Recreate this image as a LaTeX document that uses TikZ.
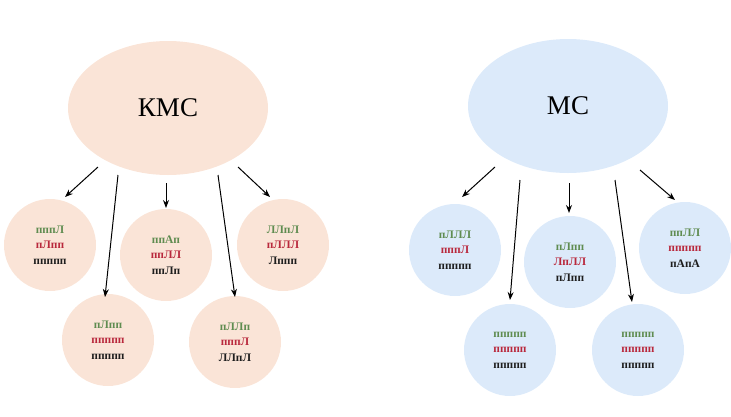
\documentclass[tikz,border=0pt]{standalone}
\usepackage{fontspec}
\setmainfont{Liberation Serif}
\usetikzlibrary{arrows.meta,shapes.geometric}
\definecolor{peach}{RGB}{250,228,215}
\definecolor{sky}{RGB}{220,234,250}
\definecolor{tgreen}{RGB}{95,140,80}
\definecolor{tred}{RGB}{185,40,60}
\definecolor{tblack}{RGB}{30,30,30}
\begin{document}
\begin{tikzpicture}[x=1pt,y=-1pt,
  bigell/.style={ellipse,minimum width=200pt,minimum height=134pt,inner sep=0pt,font=\fontsize{27}{29}\selectfont},
  smallc/.style={circle,minimum size=92pt,inner sep=0pt,align=center,font=\fontsize{11.5}{15.5}\selectfont\bfseries},
  arr/.style={-{Stealth[length=8pt,width=6pt]},line width=1pt,black}]
\useasboundingbox (0,0) rectangle (731,416);
\node[bigell,fill=peach] (kms) at (168,108) {КМС};
\node[bigell,fill=sky] (ms) at (568,106) {МС};
\newcommand{\tri}[3]{\textcolor{tgreen}{#1}\\\textcolor{tred}{#2}\\\textcolor{tblack}{#3}}
\node[smallc,fill=peach] (a1) at (50,245) {\tri{пппЛ}{пЛпп}{ппппп}};
\node[smallc,fill=peach] (a2) at (166,255) {\tri{ппАп}{ппЛЛ}{ппЛп}};
\node[smallc,fill=peach] (a3) at (283,245) {\tri{ЛЛпЛ}{пЛЛЛ}{Лппп}};
\node[smallc,fill=peach] (a4) at (108,340) {\tri{пЛпп}{ппппп}{ппппп}};
\node[smallc,fill=peach] (a5) at (235,342) {\tri{пЛЛп}{пппЛ}{ЛЛпЛ}};
\node[smallc,fill=sky] (b1) at (455,250) {\tri{пЛЛЛ}{пппЛ}{ппппп}};
\node[smallc,fill=sky] (b2) at (570,262) {\tri{пЛпп}{ЛпЛЛ}{пЛпп}};
\node[smallc,fill=sky] (b3) at (685,248) {\tri{ппЛЛ}{ппппп}{пАпА}};
\node[smallc,fill=sky] (b4) at (510,350) {\tri{ппппп}{ппппп}{ппппп}};
\node[smallc,fill=sky] (b5) at (638,350) {\tri{ппппп}{ппппп}{ппппп}};
\coordinate (ka1) at (98,167);
\coordinate (ka2) at (118,175);
\coordinate (ka3) at (166,183);
\coordinate (ka4) at (218,175);
\coordinate (ka5) at (238,167);
\coordinate (ta1) at (65,197);
\coordinate (ta2) at (105,297);
\coordinate (ta3) at (166,208);
\coordinate (ta4) at (235,297);
\coordinate (ta5) at (270,197);
\draw[arr] (ka1) -- (ta1);
\draw[arr] (ka2) -- (ta2);
\draw[arr] (ka3) -- (ta3);
\draw[arr] (ka4) -- (ta4);
\draw[arr] (ka5) -- (ta5);
\coordinate (mb1) at (495,167);
\coordinate (mb2) at (520,180);
\coordinate (mb3) at (569,183);
\coordinate (mb4) at (615,180);
\coordinate (mb5) at (640,170);
\coordinate (tb1) at (462,197);
\coordinate (tb2) at (510,300);
\coordinate (tb3) at (569,213);
\coordinate (tb4) at (632,302);
\coordinate (tb5) at (675,200);
\draw[arr] (mb1) -- (tb1);
\draw[arr] (mb2) -- (tb2);
\draw[arr] (mb3) -- (tb3);
\draw[arr] (mb4) -- (tb4);
\draw[arr] (mb5) -- (tb5);
\end{tikzpicture}
\end{document}
